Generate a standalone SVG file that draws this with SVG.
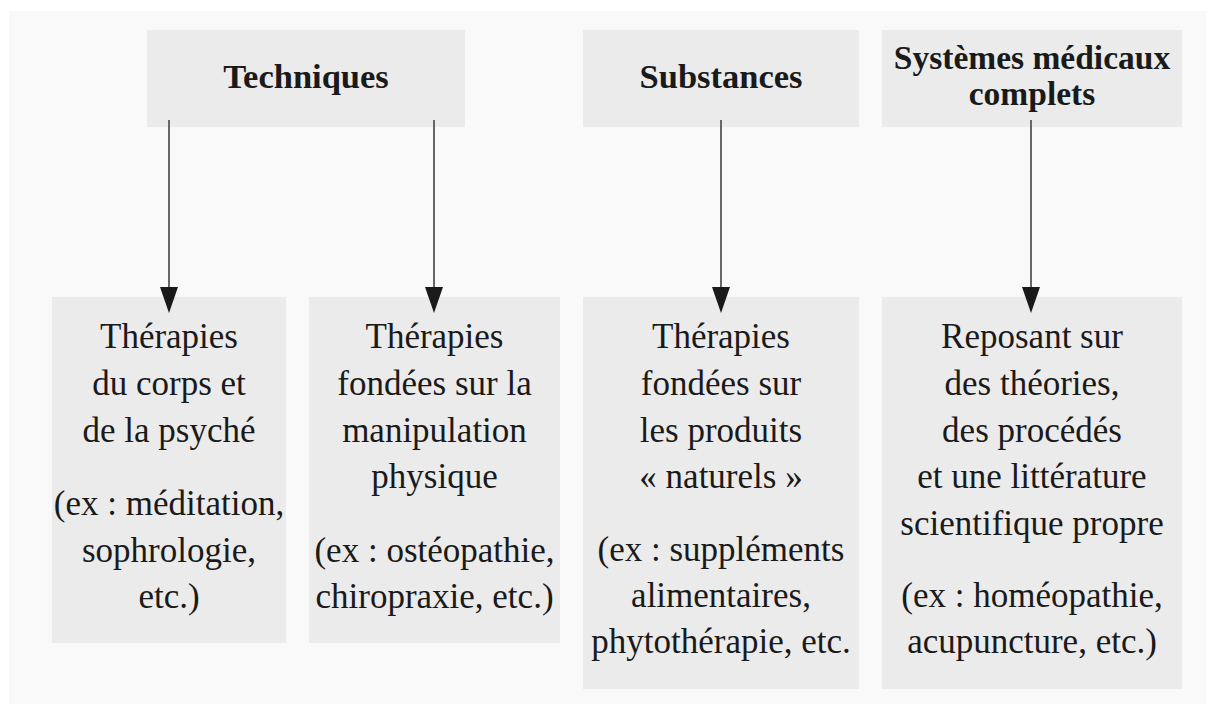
<svg xmlns="http://www.w3.org/2000/svg" width="1214" height="704" viewBox="0 0 1214 704">
<defs>
<style>
.bg{fill:#f9f9f9}
.box{fill:#ebebeb}
.h{font-family:"Liberation Serif","Times New Roman",serif;font-weight:bold;font-size:34.5px;fill:#1a1a1a;text-anchor:middle}
.h2{font-size:33.5px}
.t{font-family:"Liberation Serif","Times New Roman",serif;font-size:35px;fill:#1a1a1a;text-anchor:middle}
.c{stroke:#666;stroke-width:2;fill:none;marker-end:url(#ah)}
</style>
<marker id="ah" markerUnits="userSpaceOnUse" markerWidth="26" markerHeight="18" refX="0" refY="9" orient="auto" viewBox="0 0 26 18">
<path d="M0,0 L26,9 L0,18 z" fill="#1a1a1a"/>
</marker>
</defs>
<rect width="1214" height="704" fill="#ffffff"/>
<rect class="bg" x="9" y="11" width="1197" height="693"/>

<g id="techniques">
<rect class="box" x="147" y="30" width="318" height="97"/>
<text class="h" x="306" y="88">Techniques</text>
</g>
<g id="substances">
<rect class="box" x="583" y="30" width="276" height="97"/>
<text class="h" x="721" y="88">Substances</text>
</g>
<g id="systemes">
<rect class="box" x="882" y="30" width="300" height="97"/>
<text class="h h2" x="1032" y="69">Systèmes médicaux</text>
<text class="h h2" x="1032" y="105">complets</text>
</g>

<g id="corps-psyche">
<rect class="box" x="52" y="297" width="234" height="346"/>
<text class="t" x="169" y="348">Thérapies</text>
<text class="t" x="169" y="395">du corps et</text>
<text class="t" x="169" y="442">de la psyché</text>
<text class="t" x="169" y="515">(ex : méditation,</text>
<text class="t" x="169" y="562">sophrologie,</text>
<text class="t" x="169" y="608">etc.)</text>
</g>
<g id="manipulation">
<rect class="box" x="309" y="297" width="251" height="346"/>
<text class="t" x="434.5" y="348">Thérapies</text>
<text class="t" x="434.5" y="395">fondées sur la</text>
<text class="t" x="434.5" y="442">manipulation</text>
<text class="t" x="434.5" y="488">physique</text>
<text class="t" x="434.5" y="562">(ex : ostéopathie,</text>
<text class="t" x="434.5" y="608">chiropraxie, etc.)</text>
</g>
<g id="produits-naturels">
<rect class="box" x="583" y="297" width="276" height="392"/>
<text class="t" x="721" y="348">Thérapies</text>
<text class="t" x="721" y="395">fondées sur</text>
<text class="t" x="721" y="442">les produits</text>
<text class="t" x="721" y="488">« naturels »</text>
<text class="t" x="721" y="561">(ex : suppléments</text>
<text class="t" x="721" y="607">alimentaires,</text>
<text class="t" x="721" y="653">phytothérapie, etc.</text>
</g>
<g id="theories">
<rect class="box" x="882" y="297" width="300" height="392"/>
<text class="t" x="1032" y="348">Reposant sur</text>
<text class="t" x="1032" y="395">des théories,</text>
<text class="t" x="1032" y="442">des procédés</text>
<text class="t" x="1032" y="488">et une littérature</text>
<text class="t" x="1032" y="535">scientifique propre</text>
<text class="t" x="1032" y="607">(ex : homéopathie,</text>
<text class="t" x="1032" y="653">acupuncture, etc.)</text>
</g>

<g id="connectors">
<line class="c" x1="169" y1="120" x2="169" y2="287"/>
<line class="c" x1="434" y1="120" x2="434" y2="287"/>
<line class="c" x1="721" y1="120" x2="721" y2="287"/>
<line class="c" x1="1031" y1="120" x2="1031" y2="287"/>
</g>
</svg>
